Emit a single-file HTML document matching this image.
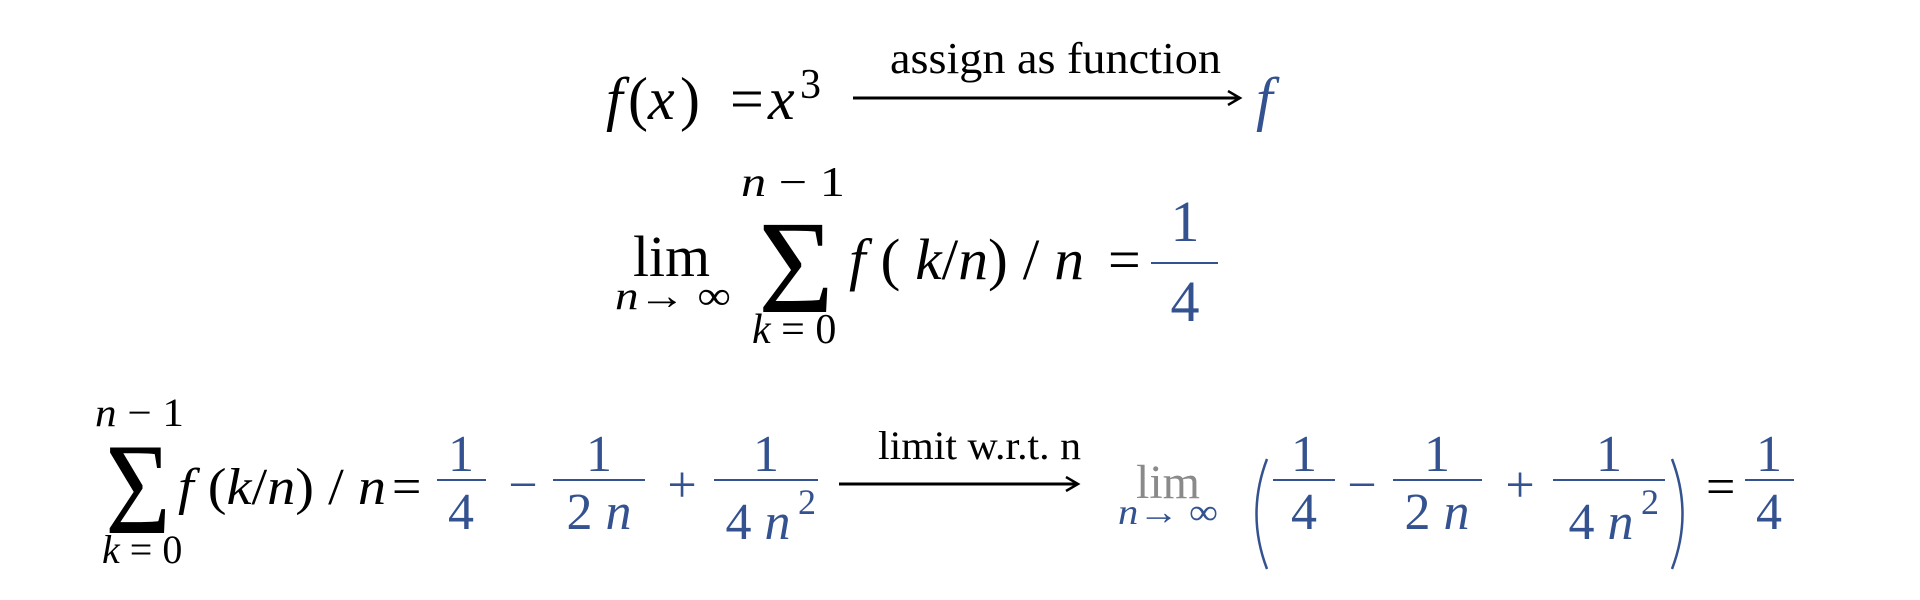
<!DOCTYPE html>
<html><head><meta charset="utf-8"><style>
html,body{margin:0;padding:0;background:#fff;width:1920px;height:600px;overflow:hidden}
svg{display:block}
text{font-family:"Liberation Serif",serif}
.i{font-style:italic}
.b{fill:#33528f}
</style></head><body>
<svg width="1920" height="600" viewBox="0 0 1920 600">
<defs><marker id="ah" markerWidth="16" markerHeight="16" refX="13" refY="8" orient="auto" markerUnits="userSpaceOnUse"><path d="M1,1 L13,8 L1,15" fill="none" stroke="#000" stroke-width="2.5"/></marker></defs>
<!-- Row 1 -->
<text x="606" y="119" font-size="60" class="i">f</text>
<text x="628" y="119" font-size="60">(</text>
<text x="648" y="119" font-size="60" class="i">x</text>
<text x="680" y="119" font-size="60">)</text>
<text x="730" y="119" font-size="60">=</text>
<text x="768" y="119" font-size="60" class="i">x</text>
<text x="800" y="98" font-size="42">3</text>
<text x="890" y="73" font-size="44" textLength="331" lengthAdjust="spacingAndGlyphs">assign as function</text>
<line x1="853" y1="98" x2="1240" y2="98" stroke="#000" stroke-width="3" marker-end="url(#ah)"/>
<text x="1256" y="119" font-size="60" class="i b">f</text>
<!-- Row 2 -->
<text x="633" y="276" font-size="58" textLength="77" lengthAdjust="spacingAndGlyphs">lim</text>
<text x="615" y="309" font-size="40" textLength="116" lengthAdjust="spacingAndGlyphs"><tspan class="i">n</tspan>→ ∞</text>
<text x="741" y="196" font-size="42" textLength="104" lengthAdjust="spacingAndGlyphs"><tspan class="i">n</tspan> − 1</text>
<text transform="translate(796,312) scale(1.3,1.33)" font-size="100" text-anchor="middle">Σ</text>
<text x="752" y="343" font-size="42"><tspan class="i">k</tspan> = 0</text>
<text x="849" y="279" font-size="58" textLength="235" lengthAdjust="spacingAndGlyphs"><tspan class="i">f</tspan> ( <tspan class="i">k</tspan>/<tspan class="i">n</tspan>) / <tspan class="i">n</tspan></text>
<text x="1108" y="279" font-size="58">=</text>
<line x1="1151" y1="263" x2="1218" y2="263" stroke="#33528f" stroke-width="2"/>
<text x="1185" y="241" font-size="58" text-anchor="middle" class="b">1</text>
<text x="1185" y="321" font-size="58" text-anchor="middle" class="b">4</text>
<!-- Row 3 -->
<text x="95" y="426" font-size="40" textLength="89" lengthAdjust="spacingAndGlyphs"><tspan class="i">n</tspan> − 1</text>
<text transform="translate(138,533) scale(1.25,1.45)" font-size="90" text-anchor="middle">Σ</text>
<text x="102" y="563" font-size="40"><tspan class="i">k</tspan> = 0</text>
<text x="178" y="504" font-size="52" textLength="208" lengthAdjust="spacingAndGlyphs"><tspan class="i">f</tspan> (<tspan class="i">k</tspan>/<tspan class="i">n</tspan>) / <tspan class="i">n</tspan></text>
<text x="392" y="504" font-size="52">=</text>
<g class="b" font-size="52" text-anchor="middle">
<text x="461" y="471">1</text><text x="461" y="529">4</text>
<text x="523" y="502">−</text>
<text x="599" y="471">1</text><text x="599" y="529">2 <tspan class="i">n</tspan></text>
<text x="682" y="502">+</text>
<text x="766" y="471">1</text><text x="758" y="539">4 <tspan class="i">n</tspan></text>
</g>
<text x="798" y="514" font-size="36" class="b">2</text>
<g stroke="#33528f" stroke-width="2">
<line x1="437" y1="480" x2="486" y2="480"/><line x1="553" y1="480" x2="645" y2="480"/><line x1="714" y1="480" x2="818" y2="480"/>
</g>
<text x="878" y="459" font-size="40" textLength="203" lengthAdjust="spacingAndGlyphs">limit w.r.t. n</text>
<line x1="839" y1="484" x2="1078" y2="484" stroke="#000" stroke-width="3" marker-end="url(#ah)"/>
<text x="1136" y="498" font-size="48" fill="#8a8a8a" textLength="64" lengthAdjust="spacingAndGlyphs">lim</text>
<text x="1118" y="524" font-size="36" class="b" textLength="100" lengthAdjust="spacingAndGlyphs"><tspan class="i">n</tspan>→ ∞</text>
<path d="M1267,459 Q1246,514 1267,569" fill="none" stroke="#33528f" stroke-width="2.5"/>
<path d="M1672,459 Q1693,514 1672,569" fill="none" stroke="#33528f" stroke-width="2.5"/>
<g class="b" font-size="52" text-anchor="middle">
<text x="1304" y="471">1</text><text x="1304" y="529">4</text>
<text x="1362" y="502">−</text>
<text x="1437" y="471">1</text><text x="1437" y="529">2 <tspan class="i">n</tspan></text>
<text x="1520" y="502">+</text>
<text x="1609" y="471">1</text><text x="1601" y="539">4 <tspan class="i">n</tspan></text>
<text x="1769" y="471">1</text><text x="1769" y="529">4</text>
</g>
<text x="1641" y="514" font-size="36" class="b">2</text>
<text x="1706" y="504" font-size="52">=</text>
<g stroke="#33528f" stroke-width="2">
<line x1="1273" y1="480" x2="1335" y2="480"/><line x1="1393" y1="480" x2="1482" y2="480"/><line x1="1553" y1="480" x2="1665" y2="480"/><line x1="1745" y1="480" x2="1794" y2="480"/>
</g>
</svg>
</body></html>
